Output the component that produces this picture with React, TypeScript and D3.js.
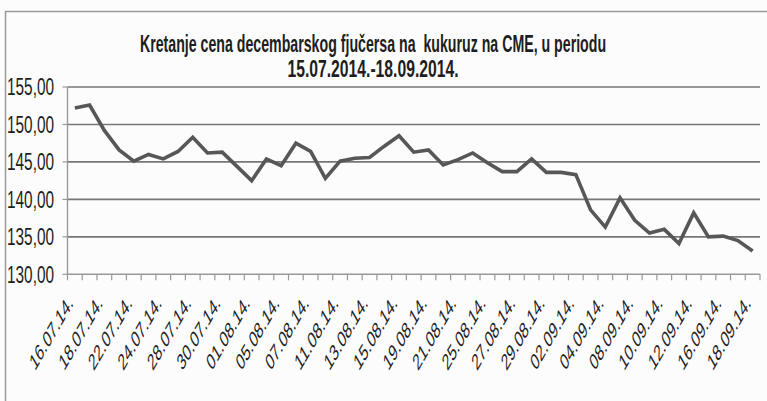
import { useLayoutEffect, useRef, useState } from "react";
import * as d3 from "d3";

const W = 767;
const H = 401;

// trading days (labels shown for every second one)
const dates = [
  "16.07.14.", "17.07.14.", "18.07.14.", "21.07.14.", "22.07.14.", "23.07.14.", "24.07.14.", "25.07.14.",
  "28.07.14.", "29.07.14.", "30.07.14.", "31.07.14.", "01.08.14.", "04.08.14.", "05.08.14.", "06.08.14.",
  "07.08.14.", "08.08.14.", "11.08.14.", "12.08.14.", "13.08.14.", "14.08.14.", "15.08.14.", "18.08.14.",
  "19.08.14.", "20.08.14.", "21.08.14.", "22.08.14.", "25.08.14.", "26.08.14.", "27.08.14.", "28.08.14.",
  "29.08.14.", "01.09.14.", "02.09.14.", "03.09.14.", "04.09.14.", "05.09.14.", "08.09.14.", "09.09.14.",
  "10.09.14.", "11.09.14.", "12.09.14.", "15.09.14.", "16.09.14.", "17.09.14.", "18.09.14.",
];

const prices = [
  152.2, 152.6, 149.2, 146.6, 145.1, 146.0, 145.4, 146.4,
  148.3, 146.2, 146.3, 144.4, 142.5, 145.4, 144.5, 147.5,
  146.4, 142.8, 145.1, 145.5, 145.6, 147.1, 148.5, 146.3,
  146.6, 144.6, 145.3, 146.2, 144.9, 143.7, 143.7, 145.4,
  143.6, 143.6, 143.3, 138.6, 136.3, 140.2, 137.2, 135.5,
  136.0, 134.1, 138.2, 135.0, 135.1, 134.5, 133.1,
];

const yTicks = [130, 135, 140, 145, 150, 155];
const titleLines = [
  "Kretanje cena decembarskog fjučersa na  kukuruz na CME, u periodu",
  "15.07.2014.-18.09.2014.",
];

const fmt = (v: number) => v.toFixed(2).replace(".", ",");
const FONT = "'Liberation Sans', Arial, sans-serif";

// squeezes a centred title line horizontally to the width it has in the picture
function TitleLine({ text, x, y, width }: { text: string; x: number; y: number; width: number }) {
  const ref = useRef<SVGTextElement>(null);
  const [sx, setSx] = useState(0.56);
  useLayoutEffect(() => {
    if (!ref.current) return;
    const w = ref.current.getComputedTextLength();
    if (w > 0) setSx(width / w);
  }, [text, width]);
  return (
    <text
      ref={ref}
      transform={`translate(${x},${y}) scale(${sx},1)`}
      textAnchor="middle"
      fontFamily={FONT}
      fontWeight="bold"
      fontSize={23}
      fill="#1e1e1e"
      style={{ whiteSpace: "pre" }}
    >
      {text}
    </text>
  );
}

export default function App() {
  const left = 67.5;
  const right = 760;
  const top = 87;
  const bottom = 274.3;

  const x = d3.scaleBand<string>().domain(dates).range([left, right]).padding(0);
  const y = d3.scaleLinear().domain([130, 155]).range([bottom, top]);
  const cx = (d: string) => (x(d) ?? 0) + x.bandwidth() / 2;

  const line = d3
    .line<number>()
    .x((_, i) => cx(dates[i]))
    .y((d) => y(d));

  const boundaries = d3.range(dates.length + 1).map((i) => left + i * x.bandwidth());

  return (
    <svg
      width={W}
      height={H}
      style={{ position: "absolute", left: 0, top: 0, background: "#fcfcfc" }}
    >
      {/* outer frame */}
      <path d={`M5.5,${H} V11.5 H${W}`} fill="none" stroke="#9a9a9a" strokeWidth={1.5} />

      {/* title */}
      <TitleLine text={titleLines[0]} x={373} y={52} width={466} />
      <TitleLine text={titleLines[1]} x={373} y={77} width={171} />

      {/* gridlines */}
      {yTicks.slice(1).map((t) => (
        <line key={t} x1={left} x2={right} y1={y(t)} y2={y(t)} stroke="#777" strokeWidth={1.6} />
      ))}

      {/* y axis */}
      <line x1={left} x2={left} y1={top} y2={bottom} stroke="#999" strokeWidth={1.4} />
      {yTicks.map((t) => (
        <g key={t}>
          <line x1={left - 5} x2={left} y1={y(t)} y2={y(t)} stroke="#999" strokeWidth={1.2} />
          <text
            x={7}
            y={y(t)}
            dy="0.36em"
            fontFamily={FONT}
            fontSize={23}
            fill="#1e1e1e"
            textLength={47}
            lengthAdjust="spacingAndGlyphs"
          >
            {fmt(t)}
          </text>
        </g>
      ))}

      {/* x axis */}
      <line x1={left} x2={right} y1={bottom} y2={bottom} stroke="#999" strokeWidth={1.6} />
      {boundaries.map((bx, i) => (
        <line key={i} x1={bx} x2={bx} y1={bottom} y2={bottom + 6} stroke="#999" strokeWidth={1.2} />
      ))}
      {dates.map((d, i) =>
        i % 2 === 0 ? (
          <g key={d} transform={`translate(${cx(d) - 1},${bottom + 30}) matrix(0.58,0,0,1,0,0)`}>
            <text
              transform="rotate(-45)"
              textAnchor="end"
              fontFamily={FONT}
              fontSize={23}
              fill="#1e1e1e"
              textLength={95}
              lengthAdjust="spacingAndGlyphs"
            >
              {d}
            </text>
          </g>
        ) : null
      )}

      {/* price line */}
      <path
        d={line(prices) ?? ""}
        fill="none"
        stroke="#575757"
        strokeWidth={3.6}
        strokeLinejoin="miter"
      />
    </svg>
  );
}
